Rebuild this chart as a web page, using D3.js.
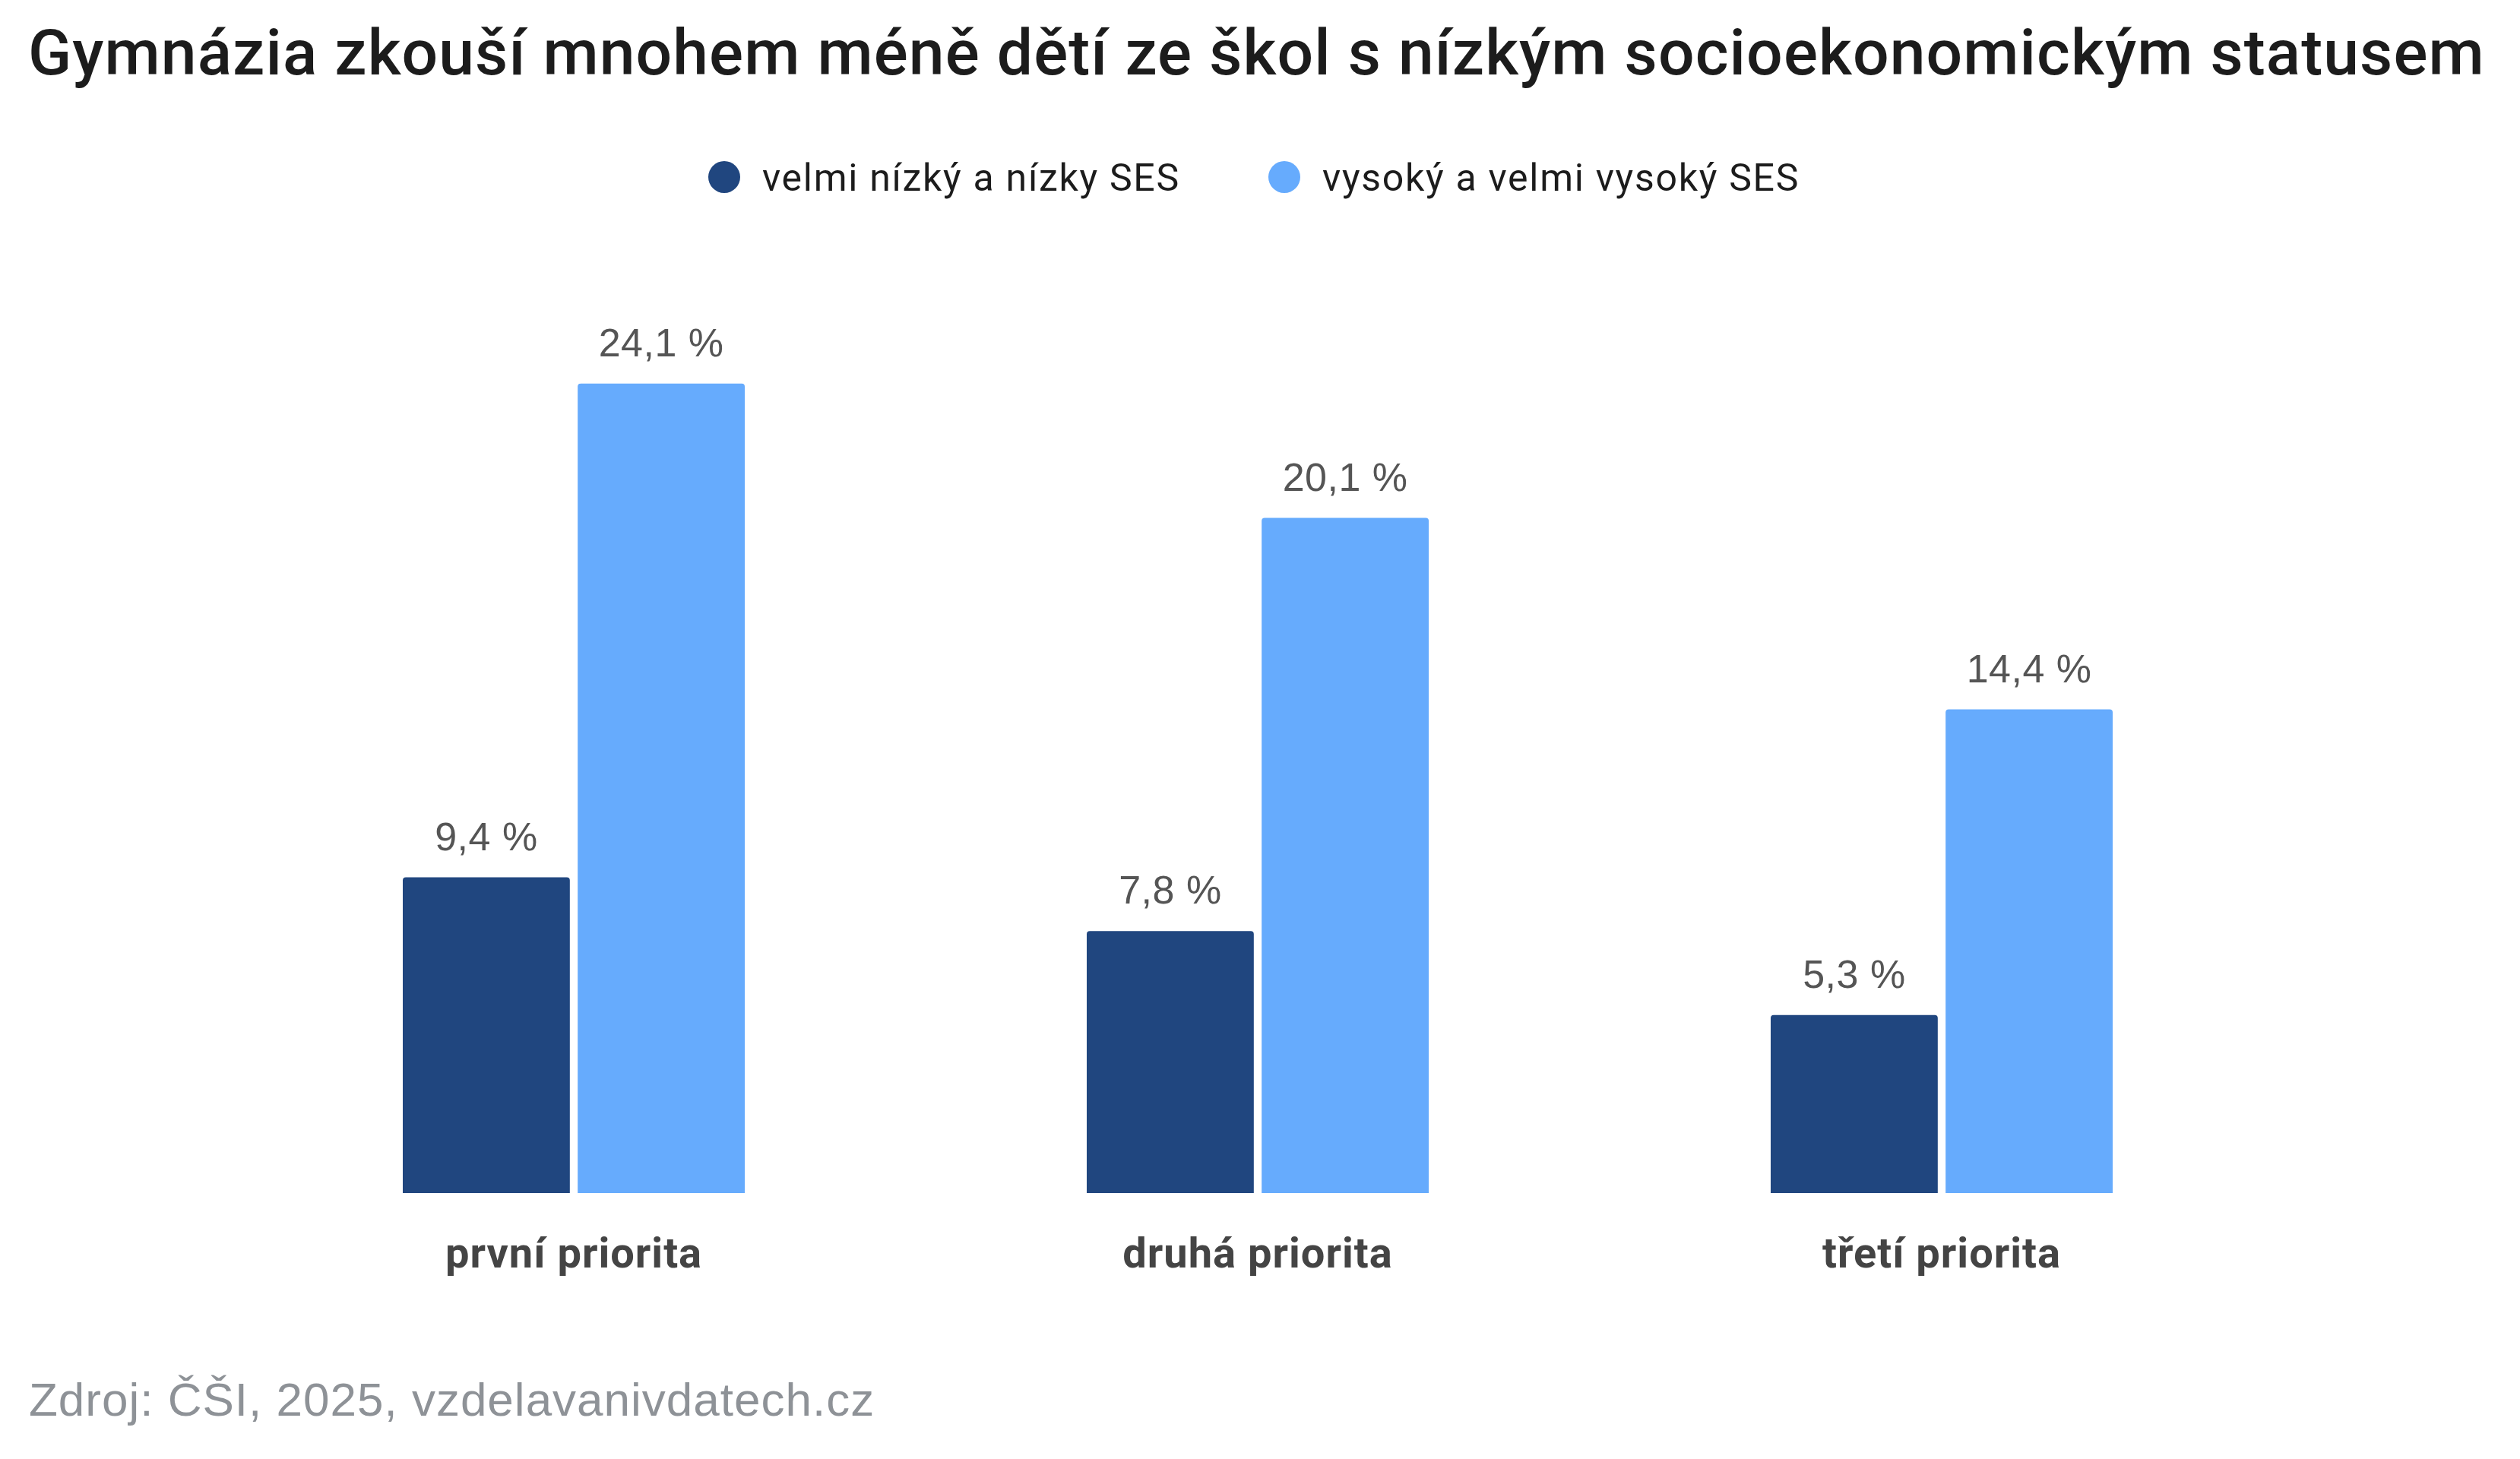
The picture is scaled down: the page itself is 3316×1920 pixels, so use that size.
<!DOCTYPE html>
<html>
<head>
<meta charset="utf-8">
<script src="https://cdn.jsdelivr.net/npm/d3@7"></script>
<style>
  html, body { margin: 0; padding: 0; background: #fff; }
  svg { display: block; }
</style>
</head>
<body>
<div class="chart"></div>
<script>
'use strict';

// data
var categories = ['první priorita', 'druhá priorita', 'třetí priorita'];
var seriesNames = ['velmi nízký a nízky SES', 'vysoký a velmi vysoký SES'];
var lowSes = [9.4, 7.8, 5.3];
var highSes = [24.1, 20.1, 14.4];
var seriesColors = ['#20467f', '#66abfd'];

var width = 3316;
var height = 1920;

var svg = d3.select('div.chart').append('svg')
    .attr('width', width)
    .attr('height', height);

svg.append('text')
    .attr('x', 37)
    .attr('y', 98)
    .attr('font-family', 'Roboto')
    .attr('font-weight', 500)
    .attr('font-size', 84)
    .attr('letter-spacing', 1.1)
    .attr('fill', '#1c1c1c')
    .text('Gymnázia zkouší mnohem méně dětí ze škol s nízkým socioekonomickým statusem');

// legend
var legendX = [953, 1690];
var legend = svg.selectAll('g.legend')
    .data(seriesNames)
    .enter().append('g')
    .attr('class', 'legend')
    .attr('transform', function (d, i) {
        return 'translate(' + legendX[i] + ',233)';
    });
legend.append('circle')
    .attr('r', 21)
    .attr('fill', function (d, i) { return seriesColors[i]; });
legend.append('text')
    .attr('x', 50)
    .attr('y', 18)
    .attr('font-family', 'Roboto')
    .attr('font-size', 50)
    .attr('letter-spacing', 1.7)
    .attr('fill', '#1c1c1c')
    .text(function (d) { return d; });

var x0 = d3.scaleBand()
    .domain(categories)
    .range([305, 3005])
    .paddingInner(0.5)
    .paddingOuter(0.25);

var x1 = d3.scaleBand()
    .domain([0, 1])
    .range([0, x0.bandwidth()])
    .paddingInner(0.045);

var y = d3.scaleLinear()
    .domain([0, 25])
    .range([1570, 465]);

var rows = categories.map(function (c, i) {
    return { cat: c, values: [lowSes[i], highSes[i]] };
});

function topRounded(x, yTop, w, h, r) {
    var p = d3.path();
    p.moveTo(x, yTop + h);
    p.lineTo(x, yTop + r);
    p.arcTo(x, yTop, x + r, yTop, r);
    p.lineTo(x + w - r, yTop);
    p.arcTo(x + w, yTop, x + w, yTop + r, r);
    p.lineTo(x + w, yTop + h);
    p.closePath();
    return p.toString();
}

var groups = svg.selectAll('g.group')
    .data(rows)
    .enter().append('g')
    .attr('class', 'group')
    .attr('transform', function (d) {
        return 'translate(' + x0(d.cat) + ',0)';
    });

groups.selectAll('path')
    .data(function (d) { return d.values; })
    .enter().append('path')
    .attr('fill', function (d, i) { return seriesColors[i]; })
    .attr('d', function (d, i) {
        return topRounded(x1(i), y(d), x1.bandwidth(), y(0) - y(d), 4);
    });

groups.selectAll('text.value')
    .data(function (d) { return d.values; })
    .enter().append('text')
    .attr('class', 'value')
    .attr('x', function (d, i) { return x1(i) + x1.bandwidth() / 2; })
    .attr('y', function (d) { return y(d) - 36; })
    .attr('text-anchor', 'middle')
    .attr('font-family', 'Liberation Sans')
    .attr('font-size', 52)
    .attr('letter-spacing', 0.5)
    .attr('fill', '#555')
    .text(function (d) { return d.toFixed(1).replace('.', ',') + ' %'; });

var xAxis = d3.axisBottom(x0).tickSize(0).tickPadding(0);
var xAx = svg.append('g')
    .attr('transform', 'translate(0,' + y(0) + ')')
    .call(xAxis);
xAx.select('.domain').remove();
xAx.selectAll('text')
    .attr('dy', null)
    .attr('y', 98)
    .attr('font-family', 'Roboto')
    .attr('font-weight', 700)
    .attr('font-size', 56)
    .attr('letter-spacing', 1)
    .attr('fill', '#444');

svg.append('text')
    .attr('x', 38)
    .attr('y', 1863)
    .attr('font-family', 'Liberation Sans')
    .attr('font-size', 62)
    .attr('letter-spacing', 1)
    .attr('fill', '#8e9297')
    .text('Zdroj: ČŠI, 2025, vzdelavanivdatech.cz');
</script>
</body>
</html>
